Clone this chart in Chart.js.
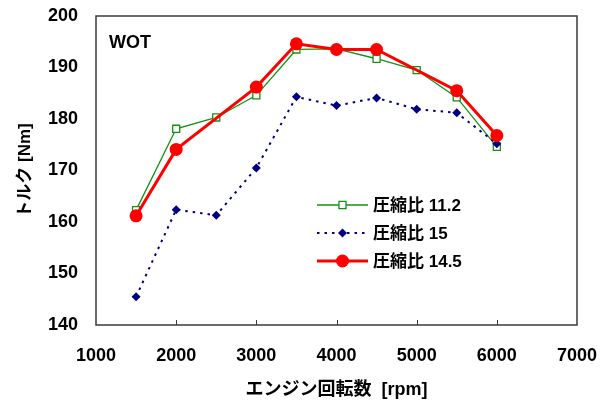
<!DOCTYPE html>
<html>
<head>
<meta charset="utf-8">
<script src="https://cdn.jsdelivr.net/npm/chart.js@4.4.1/dist/chart.umd.min.js"></script>
<style>
  html, body { margin: 0; padding: 0; background: #fff; }
  canvas { display: block; }
</style>
</head>
<body>
<canvas id="c" width="609" height="403"></canvas>
<script>
// Engine speed [rpm]
const rpm = [1500, 2000, 2500, 3000, 3500, 4000, 4500, 5000, 5500, 6000];
// Torque [Nm] for each compression ratio (null = not measured)
const torqueCR112 = [162.3, 178.1, 180.3, 184.6, 193.5, 193.6, 191.7, 189.5, 184.2, 174.6];
const torqueCR15  = [145.5, 162.4, 161.3, 170.5, 184.3, 182.6, 184.1, 181.9, 181.2, 175.2];
const torqueCR145 = [161.2, 174.1, null, 186.2, 194.6, 193.5, 193.5, null, 185.5, 176.8];
const seriesNames = ['圧縮比 11.2', '圧縮比 15', '圧縮比 14.5'];
const xTicks = [1000, 2000, 3000, 4000, 5000, 6000, 7000];
const yTicks = [140, 150, 160, 170, 180, 190, 200];

const FONT = '"Liberation Sans", "Noto Sans CJK JP", Arial, sans-serif';

function pairs(values) {
  return rpm.map((x, i) => ({ x: x, y: values[i] })).filter(p => p.y !== null);
}

const datasets = [
  {
    label: seriesNames[0],
    data: pairs(torqueCR112),
    borderColor: '#159015',
    borderWidth: 1.3,
    pointStyle: 'rect',
    pointRadius: 5,
    pointBorderWidth: 1.3,
    pointBorderColor: '#159015',
    pointBackgroundColor: '#ffffff',
    order: 3
  },
  {
    label: seriesNames[1],
    data: pairs(torqueCR15),
    borderColor: '#000080',
    borderWidth: 2,
    borderDash: [2.5, 5],
    pointStyle: 'rectRot',
    pointRadius: 4.5,
    pointBorderWidth: 0,
    pointBorderColor: '#000080',
    pointBackgroundColor: '#000080',
    order: 2
  },
  {
    label: seriesNames[2],
    data: pairs(torqueCR145),
    borderColor: '#ff0000',
    borderWidth: 3,
    pointStyle: 'circle',
    pointRadius: 6.5,
    pointBorderWidth: 0,
    pointBorderColor: '#ff0000',
    pointBackgroundColor: '#ff0000',
    order: 1
  }
];

function drawMarker(ctx, ds, x, y) {
  const opts = {
    pointStyle: ds.pointStyle,
    radius: ds.pointRadius,
    rotation: 0,
    borderWidth: ds.pointBorderWidth
  };
  ctx.save();
  ctx.setLineDash([]);
  ctx.fillStyle = ds.pointBackgroundColor;
  ctx.strokeStyle = ds.pointBorderColor;
  ctx.lineWidth = ds.pointBorderWidth;
  Chart.helpers.drawPoint(ctx, opts, x, y);
  ctx.restore();
}

// Frame, inward tick marks, "WOT" note and the in-plot legend
const decorations = {
  id: 'decorations',
  afterDatasetsDraw(chart) {
    const { ctx, chartArea: a, scales } = chart;
    ctx.save();
    ctx.strokeStyle = '#3a3a3a';
    ctx.lineWidth = 1.5;
    ctx.strokeRect(a.left, a.top, a.right - a.left, a.bottom - a.top);
    ctx.beginPath();
    xTicks.slice(1, -1).forEach(v => {
      const px = Math.round(scales.x.getPixelForValue(v)) + 0.5;
      ctx.moveTo(px, a.bottom);
      ctx.lineTo(px, a.bottom - 5);
    });
    ctx.lineWidth = 1;
    ctx.stroke();

    ctx.fillStyle = '#000';
    ctx.font = 'bold 18px ' + FONT;
    ctx.textBaseline = 'middle';
    ctx.textAlign = 'left';
    ctx.fillText('WOT', a.left + 13, a.top + 27);

    // legend rows in drawing order: 11.2, 15, 14.5
    const lx0 = a.left + 221, lx1 = a.left + 272;
    const rows = [a.top + 189, a.top + 217, a.top + 245];
    ctx.font = 'bold 17px ' + FONT;
    chart.data.datasets.forEach((ds, i) => {
      const y = rows[i];
      ctx.save();
      ctx.strokeStyle = ds.borderColor;
      ctx.lineWidth = ds.borderWidth;
      ctx.setLineDash(ds.borderDash || []);
      ctx.beginPath();
      ctx.moveTo(lx0, y);
      ctx.lineTo(lx1, y);
      ctx.stroke();
      ctx.restore();
      drawMarker(ctx, ds, (lx0 + lx1) / 2, y);
      ctx.fillStyle = '#000';
      ctx.fillText(ds.label, lx1 + 5, y + 1);
    });
    ctx.restore();
  }
};

function noOverhang(s) {
  s.paddingTop = 0; s.paddingBottom = 0; s.paddingLeft = 0; s.paddingRight = 0;
}

new Chart(document.getElementById('c'), {
  type: 'line',
  data: { datasets: datasets },
  options: {
    responsive: false,
    devicePixelRatio: 1,
    animation: false,
    spanGaps: true,
    layout: { padding: { top: 16, right: 32, bottom: 0, left: 0 } },
    plugins: { legend: { display: false }, tooltip: { enabled: false } },
    elements: { line: { tension: 0 } },
    scales: {
      x: {
        type: 'linear',
        min: xTicks[0],
        max: xTicks[xTicks.length - 1],
        afterBuildTicks: s => { s.ticks = xTicks.map(v => ({ value: v })); },
        grid: { display: false, drawTicks: false },
        border: { display: false },
        ticks: {
          color: '#000',
          font: { family: FONT, size: 18, weight: 'bold' },
          padding: 20,
          maxRotation: 0,
          callback: v => String(v)
        },
        title: {
          display: true,
          text: 'エンジン回転数  [rpm]',
          color: '#000',
          font: { family: FONT, size: 18, weight: 'bold' },
          padding: { top: 0, bottom: 2 }
        },
        afterFit: s => { s.height = 78; noOverhang(s); }
      },
      y: {
        min: yTicks[0],
        max: yTicks[yTicks.length - 1],
        afterBuildTicks: s => { s.ticks = yTicks.map(v => ({ value: v })); },
        grid: { display: false, drawTicks: false },
        border: { display: false },
        ticks: { color: '#000', font: { family: FONT, size: 18, weight: 'bold' }, padding: 18 },
        title: {
          display: true,
          text: 'トルク [Nm]',
          color: '#000',
          font: { family: FONT, size: 17, weight: 'bold' },
          padding: { top: 15, bottom: 0 }
        },
        afterFit: s => { s.width = 96; noOverhang(s); }
      }
    }
  },
  plugins: [decorations]
});
</script>
</body>
</html>
